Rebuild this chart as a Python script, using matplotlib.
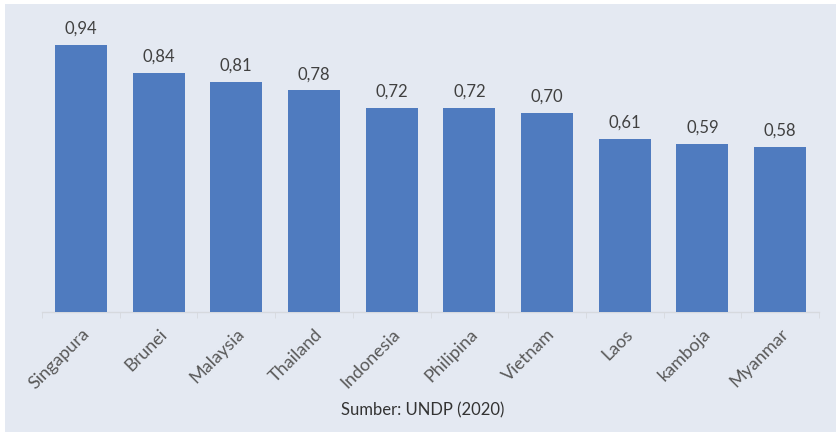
import matplotlib
matplotlib.use("Agg")
import matplotlib.pyplot as plt
from matplotlib.patches import Rectangle
import numpy as np

countries = ["Singapura", "Brunei", "Malaysia", "Thailand", "Indonesia",
             "Philipina", "Vietnam", "Laos", "kamboja", "Myanmar"]
values = [0.94, 0.84, 0.81, 0.78, 0.72, 0.72, 0.70, 0.61, 0.59, 0.58]
source = "Sumber: UNDP (2020)"

plt.rcParams['font.family'] = ['Lato', 'DejaVu Sans']

W, H = 836, 432
fig = plt.figure(figsize=(W / 100, H / 100), dpi=100)
fig.patch.set_facecolor("white")
bg = "#e4e9f2"
fig.patches.append(Rectangle((5 / W, 0), 1, 1 - 4 / H, transform=fig.transFigure,
                             facecolor=bg, edgecolor="none", zorder=-10))

ax = fig.add_axes([42 / W, (H - 312) / H, 777 / W, 302 / H])
ax.set_facecolor(bg)
x = np.arange(len(countries))
bars = ax.bar(x, values, width=0.67, color="#4f7bbf", zorder=3)
ax.set_xlim(-0.5, len(countries) - 0.5)
ax.set_ylim(0, 302 / 284)

for xi, v in zip(x, values):
    ax.annotate(f"{v:.2f}".replace(".", ","), (xi, v), xytext=(0, 6),
                textcoords="offset points", ha="center", va="bottom",
                fontsize=12, color="#404040")

for s in ["top", "right", "left"]:
    ax.spines[s].set_visible(False)
ax.spines["bottom"].set_color("#d6d9de")
ax.spines["bottom"].set_linewidth(1)
ax.set_yticks([])
ax.set_xticks(x)
ax.set_xticklabels(countries, rotation=45, ha="right", rotation_mode="anchor",
                   fontsize=13, color="#595959")
ax.tick_params(axis="x", length=0, pad=10)
ax.set_xticks(np.arange(-0.5, len(countries)), minor=True)
ax.tick_params(axis="x", which="minor", length=4, color="#d6d9de")

fig.text(423 / W, 1 - 410 / H, source, ha="center", va="center",
         fontsize=12, color="#333333")

fig.savefig("out.png", dpi=100, facecolor=fig.get_facecolor())
